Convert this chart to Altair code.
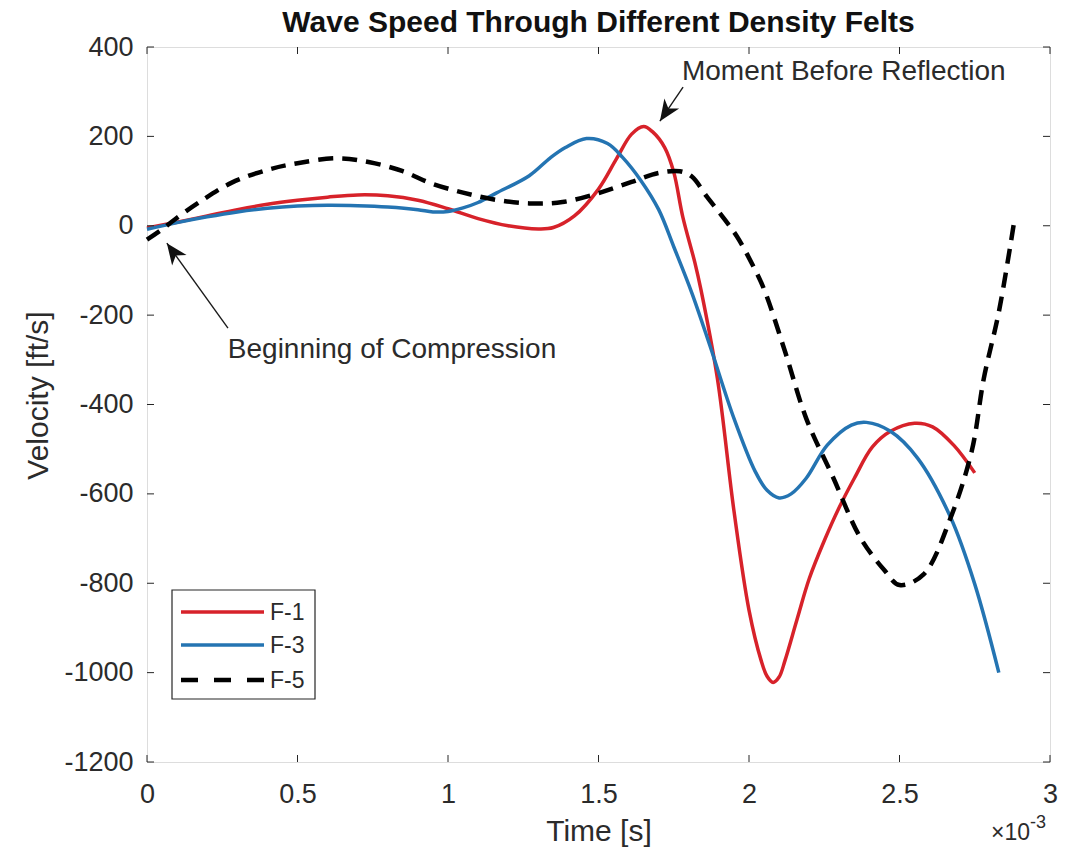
import altair as alt
import pandas as pd

# ---------------- data (time in 10^-3 s, velocity in ft/s) ----------------
series_names = ["F-1", "F-3", "F-5"]

f1_t = [0, 0.1, 0.2, 0.3, 0.4, 0.5, 0.6, 0.7, 0.8, 0.9, 1.0, 1.1, 1.2, 1.3, 1.35, 1.42,
        1.5, 1.56, 1.61, 1.65, 1.68, 1.72, 1.75, 1.78, 1.82, 1.84, 1.895, 1.95, 2.0,
        2.04, 2.06, 2.08, 2.10, 2.12, 2.16, 2.2, 2.25, 2.3, 2.35, 2.41, 2.47, 2.55, 2.61,
        2.68, 2.75]
f1_v = [-5, 8, 22, 36, 48, 57, 64, 69, 67, 57, 38, 16, 0, -7, -4, 22,
        82, 150, 205, 222, 210, 175, 120, 20, -82, -142, -342, -638, -860,
        -972, -1008, -1022, -1010, -972, -880, -790, -705, -630, -565, -495, -460, -442,
        -450, -491, -553]

f3_t = [0, 0.1, 0.2, 0.3, 0.4, 0.5, 0.6, 0.7, 0.8, 0.9, 0.95, 1.0, 1.05, 1.1, 1.16, 1.27,
        1.34, 1.39, 1.46, 1.53, 1.58, 1.64, 1.70, 1.75, 1.81, 1.87, 1.95, 2.02, 2.06,
        2.10, 2.14, 2.19, 2.26, 2.34, 2.39, 2.47, 2.56, 2.67, 2.75, 2.83]
f3_v = [-8, 7, 20, 31, 39, 44, 46, 45, 42, 36, 31, 32, 40, 52, 73, 112,
        152, 175, 195, 184, 153, 102, 36, -47, -150, -268, -431, -549, -592,
        -609, -600, -565, -491, -446, -440, -460, -520, -653, -802, -1000]

f5_t = [0, 0.05, 0.09, 0.17, 0.28, 0.4, 0.5, 0.63, 0.74, 0.85, 0.94, 1.05, 1.16, 1.27,
        1.38, 1.5, 1.61, 1.7, 1.77, 1.81, 1.86, 1.91, 1.96, 2.01, 2.05, 2.12, 2.19, 2.28,
        2.37, 2.45, 2.50, 2.58, 2.67, 2.74, 2.78, 2.83, 2.88]
f5_v = [-31, -8, 13, 51, 96, 125, 140, 151, 142, 122, 96, 74, 58, 50,
        53, 73, 98, 118, 122, 110, 65, 22, -24, -85, -142, -282, -431, -564,
        -698, -771, -804, -780, -653, -504, -342, -193, 5]

x_ticks = [0, 0.5, 1, 1.5, 2, 2.5, 3]
y_ticks = [-1200, -1000, -800, -600, -400, -200, 0, 200, 400]

title_text = "Wave Speed Through Different Density Felts"
ann_text = ["Moment Before Reflection", "Beginning of Compression"]
ann_text_t = [2.315, 0.814]
ann_text_v = [344, -278]
arrow_tail_t = [1.781, 0.269]
arrow_tail_v = [310, -229]
arrow_tip_t = [1.704, 0.066]
arrow_tip_v = [234, -39]
arrow_angle = [214, 324]

# ---------------- styles ----------------
colors = ["#D7222A", "#2474B2", "#000000"]
widths = [3.5, 3.5, 4.5]
dashes = [None, None, [15, 9]]
W, H = 903, 715
FONT = "Liberation Sans"
AX = "#262626"
TXT = "#2b2b2b"

xs = alt.Scale(domain=[0, 3], nice=False, zero=False)
ys = alt.Scale(domain=[-1200, 400], nice=False, zero=False)

x_axis = alt.Axis(values=x_ticks, labelExpr="'' + datum.value", labelFont=FONT,
                  labelFontSize=27, labelColor=TXT, labelPadding=19, ticks=False,
                  tickSize=0, domain=False, grid=False, labelFlush=False,
                  labelOverlap=False,
                  title="Time [s]", titleFont=FONT, titleFontSize=30, titleColor=TXT,
                  titleFontWeight="normal", titleY=69, titleBaseline="middle")
y_axis = alt.Axis(values=y_ticks, labelExpr="'' + datum.value", labelFont=FONT,
                  labelFontSize=27, labelColor=TXT, labelPadding=14, ticks=False,
                  tickSize=0, domain=False, grid=False, labelFlush=False,
                  labelOverlap=False,
                  title="Velocity [ft/s]", titleFont=FONT, titleFontSize=30,
                  titleColor=TXT, titleFontWeight="normal", titleX=-109, titleY=348,
                  titleAngle=270, titleAlign="center", titleBaseline="middle")


def X(field):
    return alt.X(field, scale=xs, axis=x_axis)


def Y(field):
    return alt.Y(field, scale=ys, axis=y_axis)


all_t = [f1_t, f3_t, f5_t]
all_v = [f1_v, f3_v, f5_v]

layers = []
for i, name in enumerate(series_names):
    d = pd.DataFrame({"t": all_t[i], "v": all_v[i], "series": name})
    mk = dict(interpolate="catmull-rom", color=colors[i], strokeWidth=widths[i],
              strokeCap="butt")
    if dashes[i]:
        mk["strokeDash"] = dashes[i]
    layers.append(alt.Chart(d).mark_line(**mk).encode(x=X("t:Q"), y=Y("v:Q")))

# inward ticks on all four sides
xt = pd.DataFrame({"t": x_ticks})
yt = pd.DataFrame({"v": y_ticks})
TL = 7
for y0, y1 in [(H, H - TL), (0, TL)]:
    layers.append(alt.Chart(xt).mark_rule(color=AX, strokeWidth=1).encode(
        x=X("t:Q"), y=alt.value(y0), y2=alt.value(y1)))
for x0, x1 in [(0, TL), (W, W - TL)]:
    layers.append(alt.Chart(yt).mark_rule(color=AX, strokeWidth=1).encode(
        y=Y("v:Q"), x=alt.value(x0), x2=alt.value(x1)))

# annotations
arr = pd.DataFrame({"t0": arrow_tail_t, "v0": arrow_tail_v, "t": arrow_tip_t,
                    "v": arrow_tip_v, "ang": arrow_angle})
layers.append(alt.Chart(arr).mark_rule(color="#1a1a1a", strokeWidth=1.4).encode(
    x=X("t0:Q"), y=Y("v0:Q"), x2="t:Q", y2="v:Q"))
layers.append(alt.Chart(arr).mark_point(
    shape="M0,0 L0.42,1 L0,0.72 L-0.42,1 Z", filled=True, size=1800,
    color="#111111", opacity=1, strokeWidth=0).encode(
    x=X("t:Q"), y=Y("v:Q"), angle=alt.Angle("ang:Q", scale=None)))
ann = pd.DataFrame({"t": ann_text_t, "v": ann_text_v, "label": ann_text})
layers.append(alt.Chart(ann).mark_text(font=FONT, fontSize=28, color=TXT,
                                       align="center", baseline="middle").encode(
    x=X("t:Q"), y=Y("v:Q"), text="label:N"))

# legend (drawn by hand, MATLAB style box)
lg = pd.DataFrame({"s": ["box"]})
layers.append(alt.Chart(lg).mark_rect(fill="white", stroke=AX, strokeWidth=1.2).encode(
    x=alt.value(25), x2=alt.value(168), y=alt.value(543), y2=alt.value(652)))
leg_y = [565, 598, 633]
for i, name in enumerate(series_names):
    mk = dict(color=colors[i], strokeWidth=widths[i], strokeCap="butt")
    if dashes[i]:
        mk["strokeDash"] = [17, 16]
    layers.append(alt.Chart(lg).mark_rule(**mk).encode(
        x=alt.value(34), x2=alt.value(117), y=alt.value(leg_y[i])))
    layers.append(alt.Chart(pd.DataFrame({"s": [name]})).mark_text(
        font=FONT, fontSize=23, color=TXT, align="left", baseline="middle").encode(
        x=alt.value(123), y=alt.value(leg_y[i] + 1), text="s:N"))

# x10^-3 exponent
layers.append(alt.Chart(pd.DataFrame({"s": ["\u00d710"]})).mark_text(
    font=FONT, fontSize=23, color=TXT, align="right", baseline="alphabetic").encode(
    x=alt.value(883), y=alt.value(793), text="s:N"))
layers.append(alt.Chart(pd.DataFrame({"s": ["-3"]})).mark_text(
    font=FONT, fontSize=18, color=TXT, align="left", baseline="alphabetic").encode(
    x=alt.value(883), y=alt.value(781), text="s:N"))

# chart title (as a text mark above the plot box)
layers.append(alt.Chart(pd.DataFrame({"s": [title_text]})).mark_text(
    font=FONT, fontSize=30, fontWeight="bold", color="#111111", align="center",
    baseline="alphabetic").encode(x=alt.value(W / 2), y=alt.value(-15), text="s:N"))

chart = alt.layer(*layers).properties(
    width=W, height=H,
    autosize=alt.AutoSizeParams(type="none"),
    padding={"left": 147, "top": 47, "right": 16, "bottom": 90},
).configure_view(stroke=AX, strokeWidth=1.2).configure(background="white")

chart.save("out.html", embed_options={"renderer": "svg", "actions": False})
